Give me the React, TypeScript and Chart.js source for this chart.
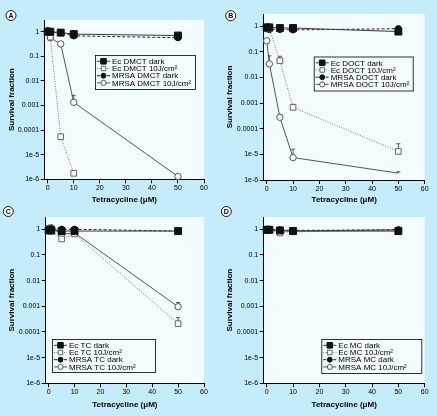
import React, { useEffect, useRef } from "react";
import { Chart, registerables } from "chart.js";

Chart.register(...registerables);

// ---------------- data ----------------
const doses = [0, 1, 5, 10, 50];
const xTickValues = [0, 10, 20, 30, 40, 50, 60];
const yTickValues = [1, 0.1, 0.01, 0.001, 0.0001, 0.00001, 0.000001];
const yTickLabels = ["1", "0.1", "0.01", "0.001", "0.0001", "1e-5", "1e-6"];
const xAxisTitle = "Tetracycline (μM)";
const yAxisTitle = "Survival fraction";
const seriesTemplates = ["Ec {d} dark", "Ec {d} 10J/cm²", "MRSA {d} dark", "MRSA {d} 10J/cm²"];
const noErr = [null, null, null, null, null];

// Panel A – DMCT
const dmctEcDark = [1.0, 1.0, 0.92, 0.8, 0.7];
const dmctEcLight = [1.0, 0.6, 5.4e-5, 1.75e-6, null];
const dmctMrsaDark = [1.0, 0.95, 0.9, 0.68, 0.57];
const dmctMrsaLight = [1.0, 0.57, 0.32, 0.00135, 1.3e-6];
const dmctEcDarkErr = [1.5, null, null, null, null];
const dmctMrsaLightErr = [null, null, null, 0.0026, null];

// Panel B – DOCT
const doctEcDark = [0.9, 0.9, 0.85, 0.85, 0.62];
const doctEcLight = [0.9, 0.8, 0.045, 0.00068, 1.3e-5];
const doctMrsaDark = [0.8, 0.75, 0.75, 0.72, 0.8];
const doctMrsaLight = [0.27, 0.034, 0.00028, 7.5e-6, 1.85e-6];
const doctEcLightErr = [null, null, 0.067, 0.0009, 2.6e-5];
const doctMrsaLightErr = [null, 0.07, null, 1.6e-5, 2.1e-6];

// Panel C – TC
const tcEcDark = [0.9, 0.9, 0.85, 0.85, 0.85];
const tcEcLight = [0.9, 0.85, 0.42, 0.66, 0.00021];
const tcMrsaDark = [1.0, 1.05, 1.0, 1.0, 0.85];
const tcMrsaLight = [1.1, 1.15, 0.64, 0.72, 0.00096];
const tcEcLightErr = [null, null, null, null, 0.00036];
const tcMrsaLightErr = [null, null, null, null, 0.0014];

// Panel D – MC
const mcEcDark = [0.95, 0.95, 0.9, 0.85, 0.85];
const mcEcLight = [0.95, 0.9, 0.72, 0.8, 0.9];
const mcMrsaDark = [1.0, 1.0, 0.95, 0.9, 0.95];
const mcMrsaLight = [0.95, 0.95, 0.85, 0.85, 0.95];

// ---------------- styles / layout ----------------
const BG = "#c4ecfa";
const PLOT_BG = "#f2fbfe";
const FONT = '"Liberation Sans", Arial, Helvetica, sans-serif';

const seriesStyles = [
  { shape: "square", r: 4.9, fill: "#111", stroke: "#111", line: "#3a3a3a", dash: [] as number[] },
  { shape: "square", r: 4.0, fill: PLOT_BG, stroke: "#666", line: "#777", dash: [1, 1.5] },
  { shape: "circle", r: 3.1, fill: "#111", stroke: "#111", line: "#222", dash: [3, 2] },
  { shape: "circle", r: 3.2, fill: PLOT_BG, stroke: "#555", line: "#555", dash: [] as number[] },
];

const panels = [
  {
    letter: "A", drug: "DMCT",
    series: [dmctEcDark, dmctEcLight, dmctMrsaDark, dmctMrsaLight],
    errors: [dmctEcDarkErr, noErr, noErr, dmctMrsaLightErr],
    hidden: [[], [], [], []] as number[][],
    box: { x: 0, y: 0, w: 218, h: 205 },
    area: { l: 44.7, t: 20, r: 204, b: 179.3 },
    legend: { x: 95, y: 55, w: 100, h: 34 },
    badge: { x: 11, y: 15.5 },
    xTitlePad: 0.2,
  },
  {
    letter: "B", drug: "DOCT",
    series: [doctEcDark, doctEcLight, doctMrsaDark, doctMrsaLight],
    errors: [noErr, doctEcLightErr, noErr, doctMrsaLightErr],
    hidden: [[], [], [], [4]] as number[][],
    box: { x: 218, y: 0, w: 219, h: 205 },
    area: { l: 45.7, t: 14, r: 206.7, b: 180 },
    legend: { x: 95.7, y: 56.5, w: 99, h: 34 },
    badge: { x: 12.7, y: 15.7 },
    xTitlePad: 0.2,
  },
  {
    letter: "C", drug: "TC",
    series: [tcEcDark, tcEcLight, tcMrsaDark, tcMrsaLight],
    errors: [noErr, tcEcLightErr, noErr, tcMrsaLightErr],
    hidden: [[], [], [], []] as number[][],
    box: { x: 0, y: 205, w: 218, h: 211 },
    area: { l: 45.7, t: 12, r: 204, b: 178.3 },
    legend: { x: 52, y: 134, w: 103, h: 33 },
    badge: { x: 8.3, y: 6.5 },
    xTitlePad: 6.2,
  },
  {
    letter: "D", drug: "MC",
    series: [mcEcDark, mcEcLight, mcMrsaDark, mcMrsaLight],
    errors: [noErr, noErr, noErr, noErr],
    hidden: [[], [], [], []] as number[][],
    box: { x: 218, y: 205, w: 219, h: 211 },
    area: { l: 45.7, t: 12, r: 206.7, b: 178.3 },
    legend: { x: 103.3, y: 134, w: 100, h: 34 },
    badge: { x: 8.3, y: 6.5 },
    xTitlePad: 6.2,
  },
];

type Panel = (typeof panels)[number];

function drawMarker(ctx: CanvasRenderingContext2D, st: any, x: number, y: number, scale: number) {
  const r = st.r * scale;
  ctx.save();
  ctx.lineWidth = 1;
  ctx.fillStyle = st.fill;
  ctx.strokeStyle = st.stroke;
  ctx.setLineDash([]);
  ctx.beginPath();
  if (st.shape === "square") {
    const s = r * Math.SQRT1_2;
    ctx.rect(x - s, y - s, 2 * s, 2 * s);
  } else {
    ctx.arc(x, y, r, 0, Math.PI * 2);
  }
  ctx.fill();
  ctx.stroke();
  ctx.restore();
}

function PanelChart({ panel }: { panel: Panel }) {
  const ref = useRef<HTMLCanvasElement | null>(null);

  useEffect(() => {
    if (!ref.current) return;
    const labels = seriesTemplates.map((t) => t.replace("{d}", panel.drug));

    const decor = {
      id: "panelDecor",
      beforeDraw(chart: any) {
        const { ctx, chartArea: a } = chart;
        ctx.save();
        ctx.fillStyle = PLOT_BG;
        ctx.fillRect(a.left, a.top, a.right - a.left, a.bottom - a.top);
        ctx.restore();
      },
      beforeDatasetsDraw(chart: any) {
        const { ctx } = chart;
        const xs = chart.scales.x;
        const ys = chart.scales.y;
        ctx.save();
        ctx.strokeStyle = "#333";
        ctx.lineWidth = 0.8;
        panel.errors.forEach((errs, i) => {
          errs.forEach((e, j) => {
            const v = panel.series[i][j];
            if (e == null || v == null) return;
            const x = xs.getPixelForValue(doses[j]);
            const y0 = ys.getPixelForValue(v);
            const y1 = ys.getPixelForValue(e);
            ctx.beginPath();
            ctx.moveTo(x, y0);
            ctx.lineTo(x, y1);
            ctx.moveTo(x - 2, y1);
            ctx.lineTo(x + 2, y1);
            ctx.stroke();
          });
        });
        ctx.restore();
      },
      afterDraw(chart: any) {
        const { ctx } = chart;
        const L = panel.legend;
        ctx.save();
        ctx.fillStyle = PLOT_BG;
        ctx.fillRect(L.x, L.y, L.w, L.h);
        ctx.strokeStyle = "#000";
        ctx.lineWidth = 0.8;
        ctx.strokeRect(L.x + 0.5, L.y + 0.5, L.w, L.h);
        seriesStyles.forEach((st, i) => {
          const y = L.y + 6.3 + i * 7.2;
          ctx.setLineDash(st.dash);
          ctx.strokeStyle = st.line;
          ctx.lineWidth = 1;
          ctx.beginPath();
          ctx.moveTo(L.x + 2, y);
          ctx.lineTo(L.x + 15, y);
          ctx.stroke();
          ctx.setLineDash([]);
          drawMarker(ctx, st, L.x + 8.5, y, 0.8);
          ctx.fillStyle = "#000";
          ctx.font = `8px ${FONT}`;
          ctx.textBaseline = "middle";
          ctx.textAlign = "left";
          ctx.fillText(labels[i], L.x + 17, y + 0.5);
        });
        // panel badge
        const B = panel.badge;
        ctx.beginPath();
        ctx.arc(B.x, B.y, 5, 0, Math.PI * 2);
        ctx.fillStyle = "#ffffff";
        ctx.fill();
        ctx.strokeStyle = "#000";
        ctx.lineWidth = 0.9;
        ctx.stroke();
        ctx.fillStyle = "#000";
        ctx.font = `bold 7px ${FONT}`;
        ctx.textAlign = "center";
        ctx.textBaseline = "middle";
        ctx.fillText(panel.letter, B.x, B.y + 0.5);
        ctx.restore();
      },
    };

    const tickFont = { family: FONT, size: 7 };
    const titleFont = { family: FONT, size: 8, weight: "bold" as const };

    const chart = new Chart(ref.current, {
      type: "line",
      data: {
        datasets: panel.series.map((vals, i) => {
          const st = seriesStyles[i];
          const hide = panel.hidden[i];
          return {
            label: labels[i],
            data: doses.map((x, j) => ({ x, y: vals[j] as any })),
            borderColor: st.line,
            borderWidth: 1,
            borderDash: st.dash,
            pointStyle: st.shape === "square" ? "rect" : "circle",
            pointRadius: (c: any) => (hide.includes(c.dataIndex) ? 0 : st.r),
            pointBackgroundColor: st.fill,
            pointBorderColor: st.stroke,
            pointBorderWidth: 1,
            tension: 0,
            spanGaps: false,
            clip: false as any,
          };
        }),
      },
      options: {
        animation: false,
        responsive: false,
        events: [],
        layout: {
          padding: { left: 0, top: panel.area.t, right: panel.box.w - panel.area.r, bottom: 0 },
        },
        plugins: { legend: { display: false }, tooltip: { enabled: false } },
        scales: {
          x: {
            type: "linear",
            min: -1.15,
            max: 60,
            afterBuildTicks: (s: any) => {
              s.ticks = xTickValues.map((v) => ({ value: v }));
            },
            afterFit: (s: any) => {
              s.height = panel.box.h - panel.area.b;
            },
            ticks: {
              font: tickFont,
              color: "#000",
              padding: 1,
              autoSkip: false,
              maxRotation: 0,
              callback: (v: any) => String(v),
            },
            grid: { drawOnChartArea: false, drawTicks: true, tickLength: 4, tickColor: "#000", tickWidth: 1 },
            border: { display: true, color: "#000", width: 1 },
            title: {
              display: true,
              text: xAxisTitle,
              font: titleFont,
              color: "#000",
              padding: { top: 0, bottom: panel.xTitlePad },
            },
          },
          y: {
            type: "logarithmic",
            min: 1e-6,
            max: 3,
            afterBuildTicks: (s: any) => {
              s.ticks = yTickValues.map((v) => ({ value: v }));
            },
            afterFit: (s: any) => {
              s.width = panel.area.l;
            },
            ticks: {
              font: tickFont,
              color: "#000",
              padding: 1.5,
              autoSkip: false,
              callback: (v: any) => {
                const idx = yTickValues.findIndex((t) => Math.abs(Math.log10(t) - Math.log10(v)) < 1e-6);
                return idx >= 0 ? yTickLabels[idx] : "";
              },
            },
            grid: { drawOnChartArea: false, drawTicks: true, tickLength: 4, tickColor: "#000", tickWidth: 1 },
            border: { display: true, color: "#000", width: 1 },
            title: {
              display: true,
              text: yAxisTitle,
              font: titleFont,
              color: "#000",
              padding: { top: 6.7, bottom: 0 },
            },
          },
        },
      } as any,
      plugins: [decor],
    });
    return () => chart.destroy();
  }, [panel]);

  return (
    <canvas
      ref={ref}
      width={panel.box.w}
      height={panel.box.h}
      style={{
        position: "absolute",
        left: panel.box.x,
        top: panel.box.y,
        width: panel.box.w,
        height: panel.box.h,
      }}
    />
  );
}

export default function App() {
  return (
    <div
      style={{
        position: "fixed",
        left: 0,
        top: 0,
        width: 437,
        height: 416,
        background: BG,
        overflow: "hidden",
      }}
    >
      {panels.map((p) => (
        <PanelChart key={p.letter} panel={p} />
      ))}
    </div>
  );
}
